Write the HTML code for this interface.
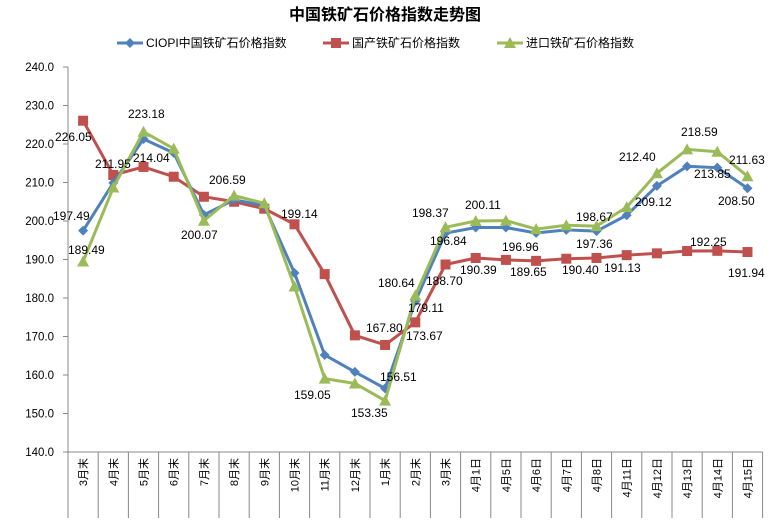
<!DOCTYPE html>
<html><head><meta charset="utf-8"><style>
body{margin:0;background:#fff;}
svg{display:block;font-family:"Liberation Sans","Noto Sans CJK SC",sans-serif;}
</style></head><body>
<svg id="c" width="771" height="523" xmlns="http://www.w3.org/2000/svg">
<text x="385" y="20" text-anchor="middle" font-size="16" font-weight="bold" fill="#000">中国铁矿石价格指数走势图</text>
</svg>
<script>
const s=document.getElementById('c');const NS='http://www.w3.org/2000/svg';
function el(t,a,txt){const e=document.createElementNS(NS,t);for(const k in a)e.setAttribute(k,a[k]);if(txt!=null)e.textContent=txt;s.appendChild(e);return e;}
const L=68,B=452,W=30.2;const Y=v=>B-(v-140)*3.85;const X=i=>L+W*(i+0.5);
el('line',{x1:L,y1:Y(240),x2:L,y2:B,stroke:'#888'});
el('line',{x1:L,y1:B,x2:L+W*23,y2:B,stroke:'#888'});
for(let v=140;v<=240;v+=10){el('line',{x1:L-5,y1:Y(v),x2:L,y2:Y(v),stroke:'#888'});
el('text',{x:L-14,y:Y(v)+4,'text-anchor':'end','font-size':11.5},v.toFixed(1));}
const cats=['3月末','4月末','5月末','6月末','7月末','8月末','9月末','10月末','11月末','12月末','1月末','2月末','3月末','4月1日','4月5日','4月6日','4月7日','4月8日','4月11日','4月12日','4月13日','4月14日','4月15日'];
for(let i=0;i<=23;i++)el('line',{x1:L+W*i,y1:B,x2:L+W*i,y2:518,stroke:'#888'});
cats.forEach((c,i)=>{el('text',{x:0,y:0,'font-size':11,transform:`translate(${X(i)+4},${458}) rotate(-90)`,'text-anchor':'end'},c);});
const blue=[197.49,209.9,221.3,217.7,201.6,205.5,204,186.5,165.2,160.8,156.51,179.11,196.84,198.3,198.3,196.9,197.7,197.36,201.5,209.12,214.2,213.85,208.5];
const red=[226.05,211.95,214.04,211.5,206.3,205,203.2,199.14,186.2,170.3,167.8,173.67,188.7,190.39,189.9,189.65,190.2,190.4,191.13,191.6,192.2,192.25,191.94];
const green=[189.49,208.7,223.18,218.8,200.07,206.59,204.6,183,159.05,157.8,153.35,180.64,198.37,200.0,200.11,197.9,198.9,198.67,203.6,212.4,218.59,218.0,211.63];
function series(d,col,mk){el('polyline',{points:d.map((v,i)=>X(i)+','+Y(v)).join(' '),fill:'none',stroke:col,'stroke-width':3});
d.forEach((v,i)=>marker(X(i),Y(v),col,mk));}
function marker(x,y,col,mk){if(mk=='d')el('polygon',{points:`${x},${y-5} ${x+5},${y} ${x},${y+5} ${x-5},${y}`,fill:col});
else if(mk=='s')el('rect',{x:x-5,y:y-5,width:10,height:10,fill:col});
else el('polygon',{points:`${x},${y-6} ${x+6},${y+5} ${x-6},${y+5}`,fill:col});}
series(red,'#C0504D','s');series(blue,'#4F81BD','d');series(green,'#9BBB59','t');
el('line',{x1:117,y1:43,x2:143,y2:43,stroke:'#4F81BD','stroke-width':3});marker(130,43,'#4F81BD','d');
el('text',{x:146,y:47,'font-size':12},'CIOPI中国铁矿石价格指数');
el('line',{x1:323,y1:43,x2:349,y2:43,stroke:'#C0504D','stroke-width':3});marker(336,43,'#C0504D','s');
el('text',{x:352,y:47,'font-size':12},'国产铁矿石价格指数');
el('line',{x1:497,y1:43,x2:523,y2:43,stroke:'#9BBB59','stroke-width':3});marker(510,43,'#9BBB59','t');
el('text',{x:526,y:47,'font-size':12},'进口铁矿石价格指数');
const labs=[['226.05',55,137],['223.18',128,114],['211.95',95,164],['214.04',133,158],['206.59',209,180],['197.49',53,216],['200.07',181,235],['189.49',68,250],['199.14',281,214],
['180.64',378,283],['188.70',426,281],['179.11',408,308],['167.80',366,328],['173.67',406,336],['156.51',380,377],['159.05',294,395],['153.35',351,413],
['212.40',619,157],['218.59',681,132],['211.63',729,160],['213.85',694,174],['209.12',635,202],['208.50',718,201],
['198.37',412,213],['200.11',465,205],['198.67',576,217],['196.84',430,241],['196.96',502,247],['197.36',576,244],['192.25',690,242],['190.39',460,270],['189.65',510,272],['190.40',562,270],['191.13',604,268],['191.94',728,273]];
labs.forEach(l=>el('text',{x:l[1],y:l[2]+4,'font-size':12},l[0]));
</script>
</body></html>
